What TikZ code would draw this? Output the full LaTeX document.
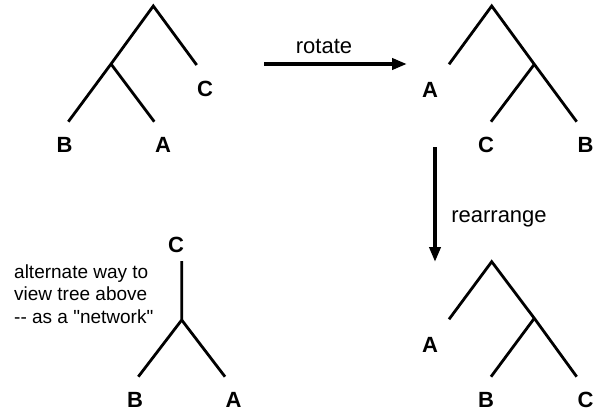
\documentclass[tikz,border=0pt]{standalone}
\usepackage{fontspec}
\setmainfont{Liberation Sans}
\usetikzlibrary{arrows.meta}
\tikzset{
  branch/.style={line width=2.8pt},
  leaf/.style={font=\fontsize{22}{26}\selectfont\bfseries, inner sep=0pt},
  word/.style={font=\fontsize{22}{26}\selectfont, inner sep=0pt},
  note/.style={font=\fontsize{19}{22.5}\selectfont, inner sep=0pt, align=left},
  bigarrow/.style={line width=4pt, -{Triangle[length=15pt,width=11pt]}},
}
\begin{document}
\begin{tikzpicture}[x=1pt,y=-1pt]
        \useasboundingbox (0,0) rectangle (601,412);
        % first tree
        \coordinate (r1) at (153.3,6);
        \coordinate (i1) at (111,64);
        \coordinate (b1) at (68.3,121.7);
        \coordinate (a1) at (154.3,121.7);
        \coordinate (c1) at (196.7,65);
        \draw[branch] (b1) -- (i1) -- (r1) -- (c1);
        \draw[branch] (i1) -- (a1);
        \node[leaf] (lc1) at (205,89) {C};
        \node[leaf] (lb1) at (64.5,145) {B};
        \node[leaf] (la1) at (163,145) {A};
        % rotated tree
        \coordinate (r2) at (491.7,6);
        \coordinate (a2) at (449,64.3);
        \coordinate (i2) at (534.3,64.3);
        \coordinate (c2) at (491,121.7);
        \coordinate (b2) at (576.7,121.7);
        \draw[branch] (a2) -- (r2) -- (i2) -- (b2);
        \draw[branch] (i2) -- (c2);
        \node[leaf] (la2) at (430,90) {A};
        \node[leaf] (lc2) at (486,145) {C};
        \node[leaf] (lb2) at (585.5,145) {B};
        % rearranged tree
        \coordinate (r3) at (491.7,261.7);
        \coordinate (a3) at (449,319.3);
        \coordinate (i3) at (534.3,318.3);
        \coordinate (b3) at (491,376.7);
        \coordinate (c3) at (576.7,376.7);
        \draw[branch] (a3) -- (r3) -- (i3) -- (c3);
        \draw[branch] (i3) -- (b3);
        \node[leaf] (la3) at (430,344.5) {A};
        \node[leaf] (lb3) at (486,400) {B};
        \node[leaf] (lc3) at (585.5,400) {C};
        % network view
        \coordinate (ct) at (181.7,261);
        \coordinate (nj) at (181.7,320);
        \coordinate (bn) at (138.3,376.7);
        \coordinate (an) at (225,376.7);
        \draw[branch] (ct) -- (nj) -- (bn);
        \draw[branch] (nj) -- (an);
        \node[leaf] (lcn) at (176,244.5) {C};
        \node[leaf] (lbn) at (135,400) {B};
        \node[leaf] (lan) at (233.5,400) {A};
        \node[note, anchor=base west] (net) at (14,323) {alternate way to\\view tree above\\-{}- as a \textquotedbl network\textquotedbl};
        % arrows
        \coordinate (rotS) at (264,64);
        \coordinate (rotE) at (407,64);
        \draw[bigarrow] (rotS) -- (rotE);
        \node[word, anchor=base] (rot) at (324,53) {rotate};
        \coordinate (rearS) at (435,147);
        \coordinate (rearE) at (435,262);
        \draw[bigarrow] (rearS) -- (rearE);
        \node[word, anchor=base] (rear) at (499,222) {rearrange};
\end{tikzpicture}
\end{document}
